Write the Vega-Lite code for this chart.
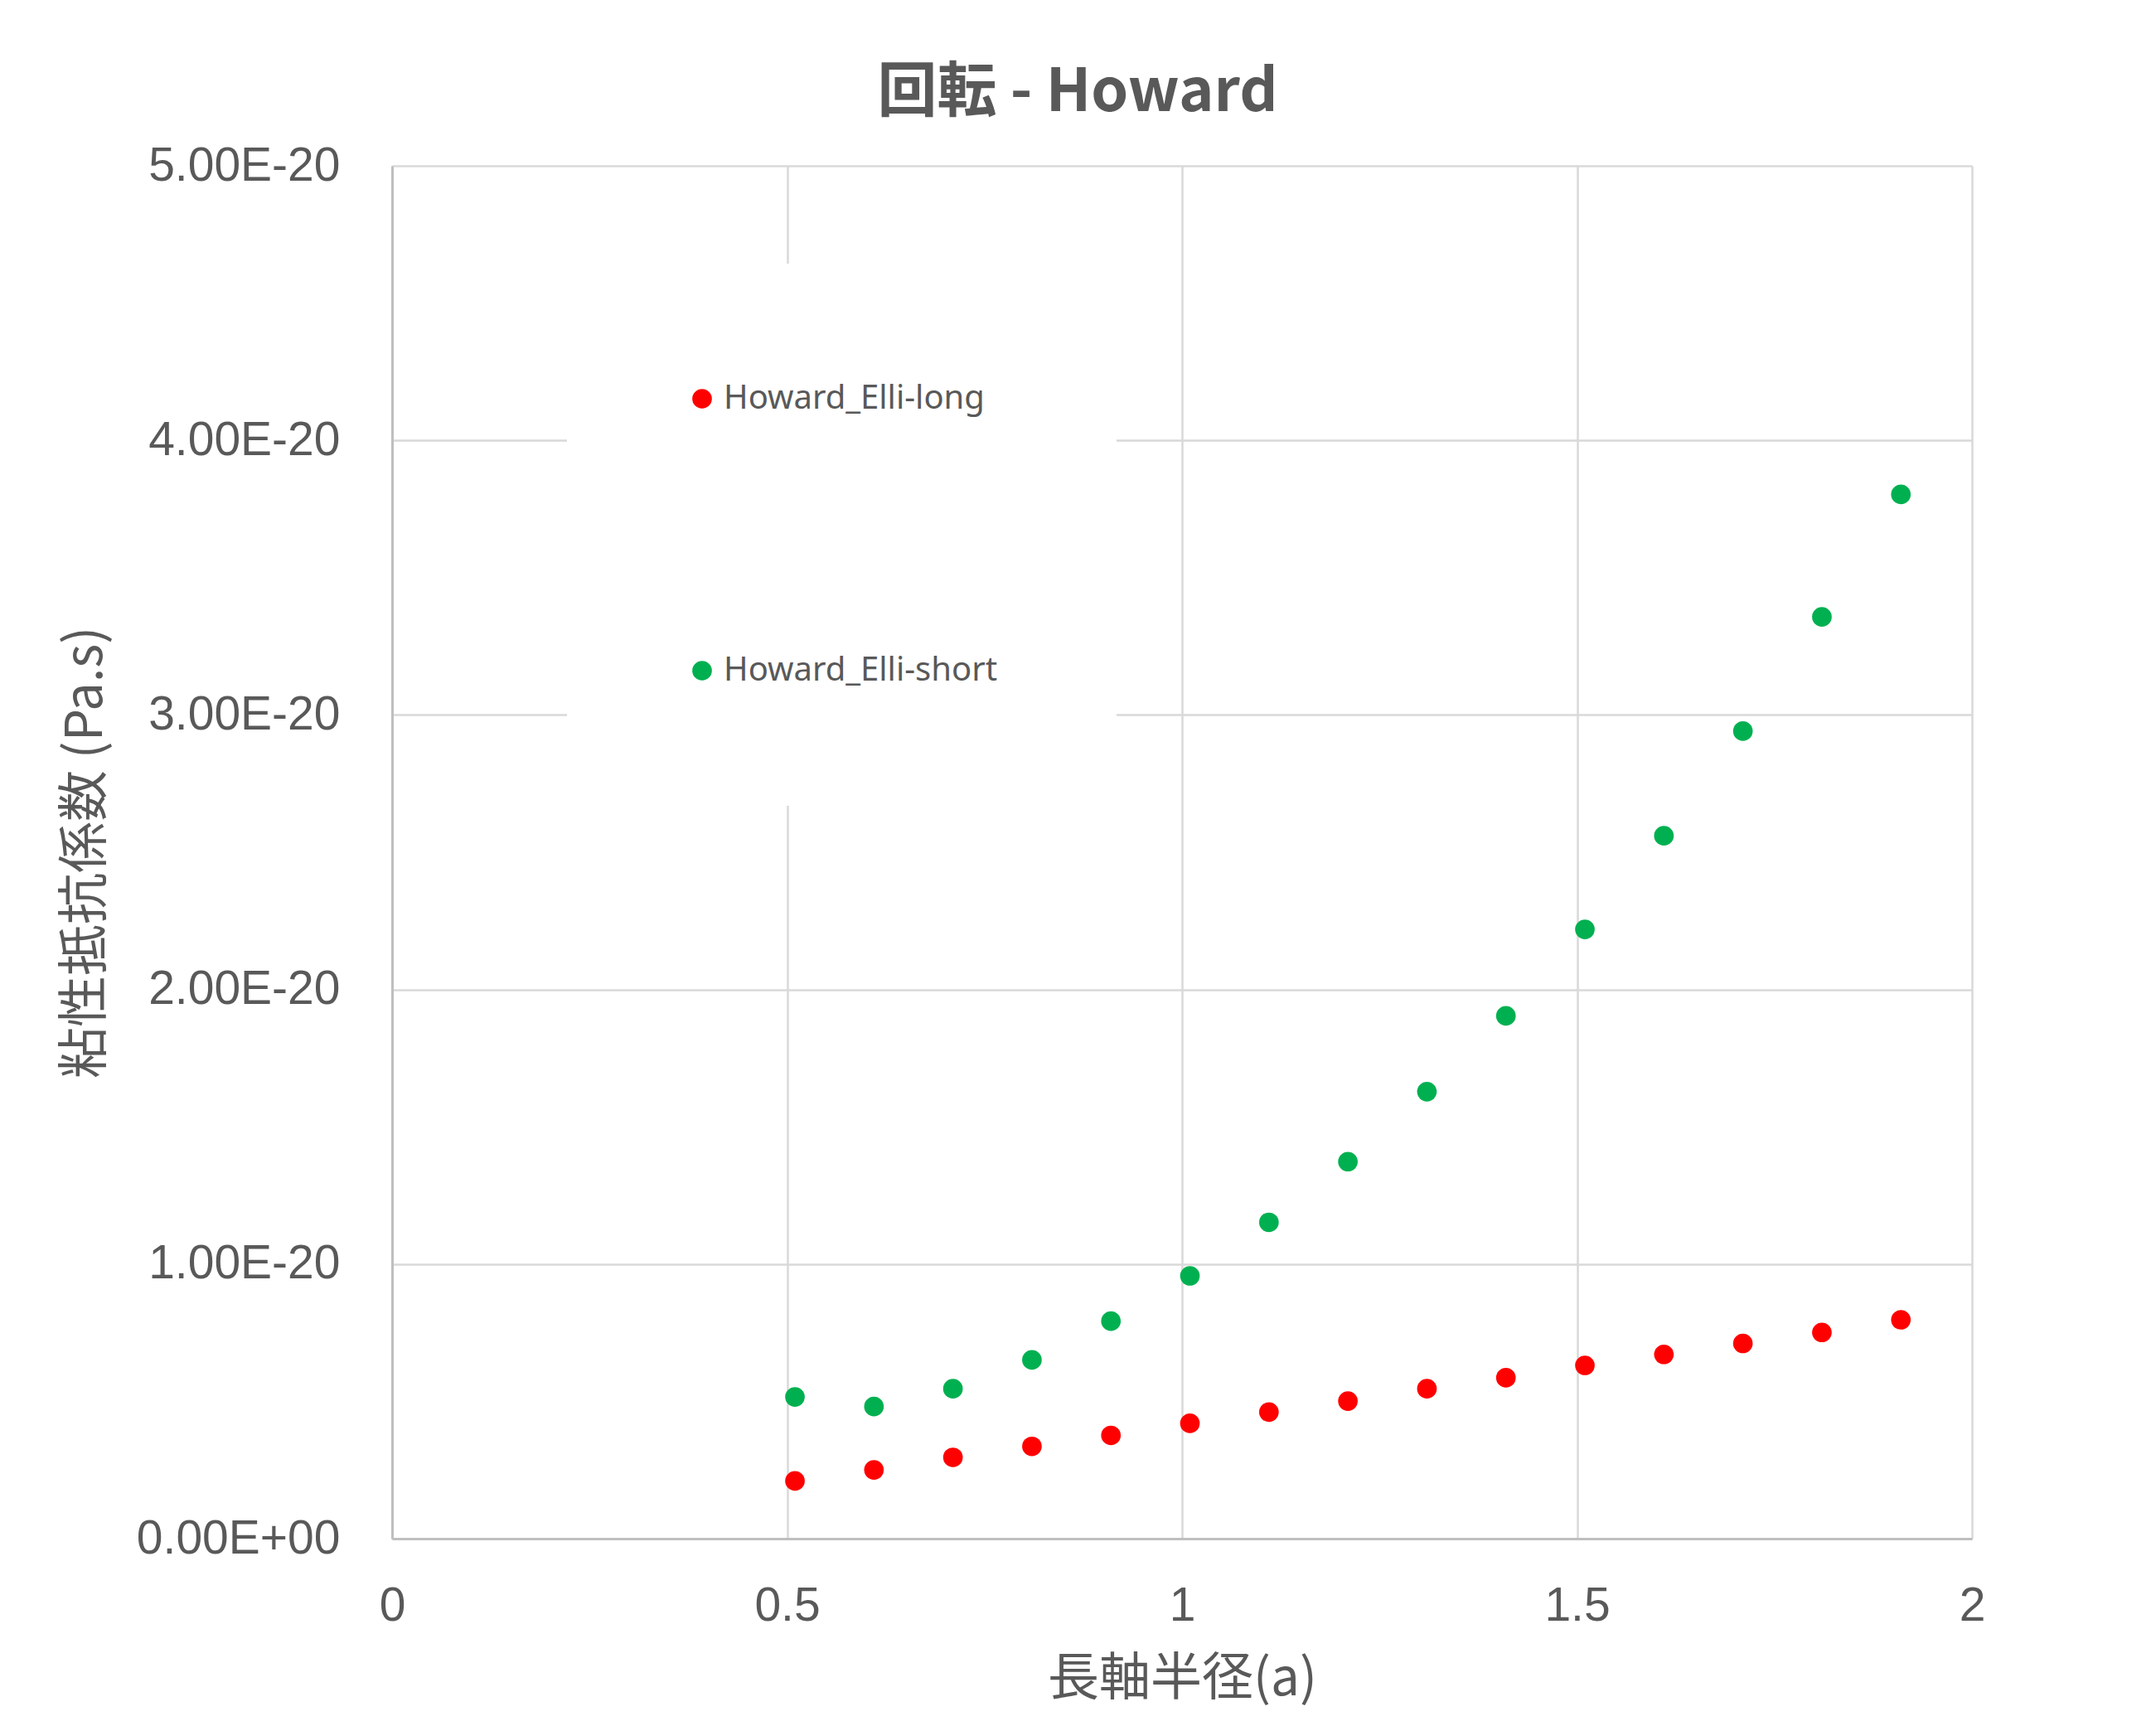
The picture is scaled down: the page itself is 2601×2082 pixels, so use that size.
{
  "$schema": "https://vega.github.io/schema/vega-lite/v6.json",
  "width": 1906,
  "height": 1656,
  "autosize": {"type": "none"},
  "padding": {"left": 473, "top": 200, "right": 222, "bottom": 226},
  "background": "white",
  "title": {
    "text": "回転 - Howard",
    "font": "Noto Sans CJK JP",
    "fontSize": 72,
    "fontWeight": "bold",
    "color": "#595959",
    "anchor": "middle",
    "dx": -126,
    "dy": 70,
    "baseline": "alphabetic",
    "offset": 35
  },
  "data": {
    "values": [
      {"x": 0.51, "y": 2.10e-21, "series": "Howard_Elli-long"},
      {"x": 0.61, "y": 2.50e-21, "series": "Howard_Elli-long"},
      {"x": 0.71, "y": 2.96e-21, "series": "Howard_Elli-long"},
      {"x": 0.81, "y": 3.36e-21, "series": "Howard_Elli-long"},
      {"x": 0.91, "y": 3.76e-21, "series": "Howard_Elli-long"},
      {"x": 1.01, "y": 4.20e-21, "series": "Howard_Elli-long"},
      {"x": 1.11, "y": 4.61e-21, "series": "Howard_Elli-long"},
      {"x": 1.21, "y": 5.01e-21, "series": "Howard_Elli-long"},
      {"x": 1.31, "y": 5.46e-21, "series": "Howard_Elli-long"},
      {"x": 1.41, "y": 5.86e-21, "series": "Howard_Elli-long"},
      {"x": 1.51, "y": 6.31e-21, "series": "Howard_Elli-long"},
      {"x": 1.61, "y": 6.71e-21, "series": "Howard_Elli-long"},
      {"x": 1.71, "y": 7.11e-21, "series": "Howard_Elli-long"},
      {"x": 1.81, "y": 7.51e-21, "series": "Howard_Elli-long"},
      {"x": 1.91, "y": 7.97e-21, "series": "Howard_Elli-long"},
      {"x": 0.51, "y": 5.16e-21, "series": "Howard_Elli-short"},
      {"x": 0.61, "y": 4.81e-21, "series": "Howard_Elli-short"},
      {"x": 0.71, "y": 5.46e-21, "series": "Howard_Elli-short"},
      {"x": 0.81, "y": 6.51e-21, "series": "Howard_Elli-short"},
      {"x": 0.91, "y": 7.92e-21, "series": "Howard_Elli-short"},
      {"x": 1.01, "y": 9.57e-21, "series": "Howard_Elli-short"},
      {"x": 1.11, "y": 1.152e-20, "series": "Howard_Elli-short"},
      {"x": 1.21, "y": 1.373e-20, "series": "Howard_Elli-short"},
      {"x": 1.31, "y": 1.628e-20, "series": "Howard_Elli-short"},
      {"x": 1.41, "y": 1.904e-20, "series": "Howard_Elli-short"},
      {"x": 1.51, "y": 2.219e-20, "series": "Howard_Elli-short"},
      {"x": 1.61, "y": 2.560e-20, "series": "Howard_Elli-short"},
      {"x": 1.71, "y": 2.941e-20, "series": "Howard_Elli-short"},
      {"x": 1.81, "y": 3.357e-20, "series": "Howard_Elli-short"},
      {"x": 1.91, "y": 3.803e-20, "series": "Howard_Elli-short"}
    ]
  },
  "mark": {"type": "point", "filled": true, "shape": "circle", "size": 560, "opacity": 1},
  "encoding": {
    "x": {
      "field": "x",
      "type": "quantitative",
      "scale": {"domain": [0, 2], "nice": false, "zero": false},
      "axis": {
        "title": "長軸半径(a)",
        "values": [0, 0.5, 1, 1.5, 2],
        "format": "~g",
        "labelFont": "Liberation Sans",
        "labelFontSize": 57,
        "labelColor": "#595959",
        "labelPadding": 53,
        "labelFlush": false,
        "labelLimit": 1000,
        "ticks": false,
        "domainColor": "#BFBFBF",
        "domainWidth": 3,
        "gridColor": "#D9D9D9",
        "gridWidth": 2.5,
        "titleFont": "Noto Sans CJK JP",
        "titleFontSize": 62,
        "titleFontWeight": "normal",
        "titleColor": "#595959",
        "titlePadding": 30
      }
    },
    "y": {
      "field": "y",
      "type": "quantitative",
      "scale": {"domain": [0, 5e-20], "nice": false},
      "axis": {
        "title": "粘性抵抗係数 (Pa.s)",
        "values": [0, 1e-20, 2e-20, 3e-20, 4e-20, 5e-20],
        "labelExpr": "datum.value == 0 ? '0.00E+00' : replace(format(datum.value, '.2e'), 'e', 'E')",
        "labelFont": "Liberation Sans",
        "labelFontSize": 57,
        "labelColor": "#595959",
        "labelPadding": 63,
        "labelFlush": false,
        "labelLimit": 1000,
        "ticks": false,
        "domainColor": "#BFBFBF",
        "domainWidth": 3,
        "gridColor": "#D9D9D9",
        "gridWidth": 2.5,
        "titleFont": "Noto Sans CJK JP",
        "titleFontSize": 62,
        "titleFontWeight": "normal",
        "titleColor": "#595959",
        "titleX": -370,
        "titleBaseline": "middle"
      }
    },
    "color": {
      "field": "series",
      "type": "nominal",
      "scale": {"domain": ["Howard_Elli-long", "Howard_Elli-short"], "range": ["#FF0000", "#00B050"]},
      "legend": {
        "title": null,
        "orient": "none",
        "legendX": 211,
        "legendY": 118,
        "padding": 143,
        "fillColor": "white",
        "rowPadding": 288,
        "symbolType": "circle",
        "symbolSize": 560,
        "symbolStrokeWidth": 0,
        "labelFont": "Noto Sans",
        "labelFontSize": 40,
        "labelColor": "#595959",
        "labelOffset": 6,
        "labelLimit": 1000
      }
    }
  },
  "config": {
    "view": {"stroke": null}
  }
}
